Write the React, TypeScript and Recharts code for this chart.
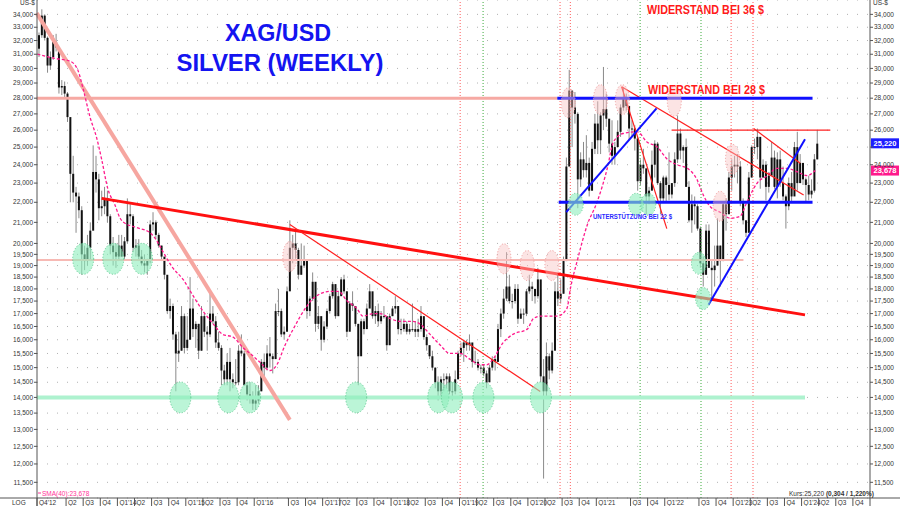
import React from "react";
import {
  ComposedChart,
  Bar,
  Line,
  XAxis,
  YAxis,
  CartesianGrid,
  ReferenceLine,
  ReferenceDot,
} from "recharts";

// half-month bars: [high, low, close]
const y2012 = [[32.6, 30.8, 32.4], [34.4, 32.2, 33.9], [34.0, 32.0, 32.2], [32.3, 29.7, 30.2]];
const y2013 = [
  [31.2, 29.9, 30.8], [32.4, 30.6, 31.9], [32.5, 31.2, 31.5], [31.5, 28.3, 28.7], [29.2, 28.2, 28.8], [29.1, 28.0, 28.3],
  [28.4, 26.5, 26.8], [26.5, 22.0, 23.5], [24.5, 22.0, 22.5], [22.8, 20.5, 22.3], [22.5, 21.2, 21.6], [21.8, 18.6, 19.5],
  [19.9, 18.8, 19.2], [20.4, 19.0, 19.8], [21.0, 19.2, 20.6], [25.1, 20.9, 23.6], [24.5, 22.5, 23.2], [23.5, 21.1, 21.7],
  [22.6, 21.3, 21.8], [22.8, 21.4, 22.2], [22.6, 21.0, 21.3], [21.4, 19.5, 19.9], [20.3, 19.0, 19.6], [20.0, 18.9, 19.4],
];
const y2014 = [
  [20.4, 19.2, 19.9], [20.4, 19.4, 19.4], [20.3, 19.3, 20.1], [22.2, 20.0, 21.4], [21.9, 20.9, 21.3], [21.4, 19.6, 19.8],
  [20.2, 19.4, 19.9], [20.2, 19.2, 19.4], [19.7, 19.0, 19.1], [19.5, 18.7, 19.0], [19.3, 18.6, 19.2], [21.1, 19.1, 20.9],
  [21.5, 20.6, 21.0], [21.1, 20.2, 20.4], [20.5, 19.8, 19.9], [19.9, 19.2, 19.4], [19.3, 18.4, 18.6], [18.5, 17.0, 17.1],
  [17.6, 16.8, 17.3], [17.4, 16.0, 16.2], [16.3, 14.2, 15.5], [16.3, 15.2, 15.6], [17.3, 15.6, 16.9], [17.0, 15.5, 15.7],
];
const y2015 = [
  [16.9, 15.6, 16.0], [18.5, 16.6, 17.2], [17.6, 16.1, 16.4], [16.7, 15.7, 16.6], [16.6, 15.3, 15.6], [17.3, 15.6, 16.9],
  [17.0, 16.1, 16.3], [16.5, 15.6, 16.2], [17.8, 16.1, 17.0], [17.3, 16.6, 16.7], [16.9, 15.7, 15.9], [16.3, 15.6, 15.7],
  [15.8, 14.4, 14.9], [15.1, 14.4, 14.6], [15.5, 14.4, 15.2], [15.7, 14.2, 14.6], [14.8, 14.3, 14.5], [15.3, 14.4, 14.5],
  [15.8, 14.4, 15.6], [16.2, 15.4, 15.5], [15.6, 14.4, 14.4], [14.5, 13.9, 14.1], [14.5, 13.8, 14.0], [14.2, 13.6, 13.8],
];
const y2016 = [
  [14.4, 13.6, 13.9], [14.4, 13.8, 14.2], [15.3, 14.2, 15.2], [15.5, 14.6, 15.0], [15.8, 14.9, 15.5], [16.1, 15.0, 15.4],
  [15.5, 14.8, 15.3], [17.4, 15.3, 17.1], [18.0, 16.9, 17.1], [17.2, 16.1, 16.2], [16.5, 16.0, 16.3], [18.1, 16.6, 17.9],
  [21.1, 18.4, 19.8], [20.4, 19.1, 20.0], [20.6, 19.3, 19.7], [19.8, 18.4, 18.6], [20.0, 18.6, 19.0], [19.9, 18.9, 19.2],
  [19.2, 16.8, 17.1], [17.7, 16.9, 17.6], [18.7, 17.5, 18.3], [18.2, 16.3, 16.6], [17.3, 16.4, 16.9], [16.7, 15.6, 16.0],
];
const y2017 = [
  [16.7, 15.9, 16.5], [17.2, 16.4, 17.1], [17.8, 17.0, 17.7], [18.3, 17.6, 18.2], [18.2, 16.8, 16.9], [17.9, 16.9, 17.7],
  [18.5, 17.9, 18.4], [18.6, 17.8, 17.9], [17.9, 16.1, 16.3], [17.5, 16.4, 17.4], [17.9, 17.1, 17.3], [17.0, 16.5, 16.6],
  [16.6, 14.4, 15.4], [16.8, 15.5, 16.7], [16.8, 16.2, 16.4], [17.4, 16.7, 17.2], [18.2, 17.4, 17.9], [17.8, 16.8, 16.9],
  [17.3, 16.6, 17.1], [17.4, 16.5, 16.7], [17.1, 16.6, 16.9], [17.3, 16.8, 16.9], [16.9, 15.6, 15.8], [17.0, 15.8, 16.9],
];
const y2018 = [
  [17.3, 16.9, 17.2], [17.7, 17.0, 17.3], [17.3, 16.2, 16.4], [16.8, 16.2, 16.4], [16.8, 16.3, 16.6], [16.7, 16.2, 16.3],
  [16.6, 16.2, 16.4], [17.4, 16.3, 16.4], [16.7, 16.1, 16.3], [16.8, 16.1, 16.4], [17.3, 16.3, 16.9], [16.8, 16.0, 16.1],
  [16.2, 15.6, 15.8], [15.8, 15.3, 15.4], [15.6, 14.9, 15.0], [15.0, 14.3, 14.5], [14.7, 13.9, 14.2], [14.7, 14.0, 14.6],
  [14.8, 14.2, 14.6], [14.8, 14.3, 14.7], [14.8, 14.1, 14.2], [14.5, 13.9, 14.2], [14.9, 14.1, 14.6], [15.6, 14.6, 15.5],
];
const y2019 = [
  [15.9, 15.4, 15.7], [16.0, 15.2, 15.9], [16.0, 15.6, 15.8], [16.2, 15.6, 15.9], [15.6, 15.0, 15.2], [15.6, 15.1, 15.2],
  [15.3, 14.9, 15.0], [15.1, 14.8, 15.0], [15.1, 14.7, 14.8], [14.9, 14.3, 14.5], [15.1, 14.5, 15.0], [15.4, 14.9, 15.3],
  [15.4, 14.9, 15.2], [16.6, 15.3, 16.4], [17.2, 16.1, 17.0], [18.0, 16.8, 17.6], [19.6, 17.5, 18.1], [18.6, 17.4, 17.5],
  [17.8, 17.2, 17.5], [18.2, 17.4, 18.0], [18.2, 16.6, 16.8], [17.2, 16.8, 17.0], [17.2, 16.6, 17.0], [18.0, 16.9, 17.9],
];
const y2020 = [
  [18.6, 17.8, 18.1], [18.3, 17.5, 18.0], [18.0, 17.4, 17.7], [18.9, 17.6, 18.4], [18.0, 14.5, 14.7], [15.3, 11.6, 14.2],
  [15.9, 14.0, 15.4], [15.5, 14.6, 14.9], [15.9, 14.8, 15.6], [18.3, 15.9, 17.9], [18.6, 17.3, 17.6], [18.4, 17.4, 17.8],
  [19.4, 17.8, 19.2], [24.4, 19.2, 23.9], [29.9, 24.0, 28.5], [28.0, 25.0, 27.4], [28.4, 26.4, 27.0], [27.1, 21.7, 23.2],
  [24.7, 22.8, 24.3], [25.3, 23.3, 23.7], [25.7, 23.3, 24.1], [24.4, 22.3, 22.6], [25.3, 22.6, 24.9], [27.0, 24.6, 26.4],
];
const y2021 = [
  [27.8, 24.6, 25.4], [27.1, 24.6, 26.9], [30.1, 26.0, 27.3], [28.3, 26.2, 26.7], [26.5, 24.7, 25.2], [26.6, 24.0, 24.5],
  [25.3, 24.0, 25.0], [26.6, 25.0, 25.9], [27.6, 25.6, 27.4], [28.7, 27.2, 28.0], [28.3, 27.2, 27.5], [27.5, 25.4, 26.1],
  [26.6, 25.6, 26.1], [26.3, 24.8, 25.5], [25.6, 22.6, 23.1], [24.3, 22.9, 24.0], [24.9, 23.5, 23.8], [23.4, 21.4, 22.3],
  [22.8, 21.9, 22.6], [24.8, 22.8, 24.0], [25.4, 23.3, 25.2], [25.3, 22.9, 23.0], [23.1, 21.4, 22.2], [23.4, 22.0, 23.3],
];
const y2022 = [
  [23.4, 22.0, 22.9], [24.7, 22.1, 22.4], [23.0, 22.2, 23.0], [24.7, 22.8, 24.3], [26.9, 24.1, 25.8], [26.1, 24.3, 24.8],
  [25.1, 24.1, 25.0], [25.5, 22.8, 22.8], [23.1, 21.0, 21.1], [22.4, 20.5, 21.9], [22.3, 20.9, 21.8], [21.9, 20.6, 20.7],
  [20.8, 18.9, 19.1], [19.4, 18.1, 18.6], [20.9, 18.6, 20.6], [20.9, 18.9, 18.9], [19.2, 17.6, 18.8], [19.9, 18.1, 19.0],
  [21.2, 19.0, 19.9], [19.9, 18.1, 19.2], [22.0, 19.2, 21.9], [22.2, 20.6, 21.4], [23.6, 21.4, 23.3], [24.3, 22.6, 23.9],
];
const y2023 = [
  [24.5, 23.3, 24.0], [24.6, 23.0, 23.9], [24.2, 21.8, 22.0], [22.2, 20.9, 21.1], [21.1, 20.3, 20.5], [23.6, 20.5, 23.3],
  [25.1, 23.3, 25.0], [25.5, 24.6, 25.0], [26.1, 24.3, 25.6], [24.6, 22.7, 23.3], [24.3, 23.3, 24.0], [24.2, 22.1, 22.8],
  [23.6, 22.5, 23.4], [25.3, 23.8, 24.4], [24.8, 22.7, 22.8], [24.7, 22.2, 24.3], [24.8, 22.8, 23.0], [23.9, 22.1, 22.3],
  [22.4, 20.7, 21.8], [23.3, 21.6, 23.0], [23.6, 22.0, 22.3], [25.3, 22.8, 25.0], [25.9, 22.6, 23.0], [24.6, 23.0, 24.1],
];
const y2024 = [[24.1, 22.9, 23.2], [23.3, 22.0, 22.9], [23.4, 22.1, 22.4], [23.2, 22.2, 22.6], [24.6, 22.5, 24.3], [26.0, 24.3, 25.2]];

const firstOpen = 31.4;
// year, first half-month slot, rows
const candleYears: [number, number, number[][]][] = [
  [2012, 20, y2012], [2013, 0, y2013], [2014, 0, y2014], [2015, 0, y2015], [2016, 0, y2016], [2017, 0, y2017],
  [2018, 0, y2018], [2019, 0, y2019], [2020, 0, y2020], [2021, 0, y2021], [2022, 0, y2022], [2023, 0, y2023], [2024, 0, y2024],
];

// SMA(40): [date, value]
const smaPoints = [
  [2012.83, 31.0], [2013.09, 30.7], [2013.31, 30.5], [2013.42, 29.9], [2013.5, 28.6], [2013.6, 26.8], [2013.7, 25.5],
  [2013.77, 24.3], [2013.86, 22.7], [2013.96, 21.9], [2014.04, 21.2], [2014.14, 20.9], [2014.23, 20.8], [2014.33, 20.7],
  [2014.48, 20.5], [2014.58, 20.1], [2014.67, 19.6], [2014.81, 18.9], [2014.96, 18.4], [2015.11, 17.7], [2015.25, 17.1],
  [2015.4, 16.6], [2015.54, 16.2], [2015.69, 16.1], [2015.84, 15.7], [2015.94, 15.5], [2016.08, 15.2], [2016.23, 14.9],
  [2016.33, 15.1], [2016.45, 15.8], [2016.57, 16.4], [2016.77, 17.3], [2016.86, 17.6], [2017.11, 17.9], [2017.23, 17.9],
  [2017.36, 17.5], [2017.5, 17.2], [2017.59, 16.9], [2017.74, 17.0], [2017.84, 17.0], [2017.99, 16.8], [2018.13, 16.7],
  [2018.32, 16.7], [2018.42, 16.6], [2018.57, 16.2], [2018.72, 15.8], [2018.86, 15.5], [2019.01, 15.5], [2019.15, 15.3],
  [2019.3, 15.1], [2019.4, 15.1], [2019.49, 15.3], [2019.64, 15.9], [2019.78, 16.2], [2019.99, 16.4], [2020.08, 16.8],
  [2020.18, 16.9], [2020.43, 16.9], [2020.57, 17.2], [2020.62, 18.0], [2020.72, 19.2], [2020.87, 20.9], [2021.01, 22.0],
  [2021.16, 23.8], [2021.25, 25.3], [2021.39, 25.8], [2021.6, 25.9], [2021.74, 25.3], [2021.89, 25.0], [2022.04, 24.3],
  [2022.18, 24.0], [2022.33, 23.8], [2022.47, 23.2], [2022.56, 22.4], [2022.66, 21.8], [2022.81, 21.5], [2022.96, 21.2],
  [2023.1, 21.3], [2023.2, 22.0], [2023.35, 23.0], [2023.5, 23.4], [2023.64, 23.8], [2023.79, 23.8], [2023.94, 23.6],
  [2024.08, 23.4], [2024.2, 23.678],
];

const lastPrice = 25.22;
const lastSma = 23.678;

const yTicks = [
  11.5, 12, 12.5, 13, 13.5, 14, 14.5, 15, 15.5, 16, 16.5, 17, 17.5, 18, 18.5, 19, 19.5, 20,
  21, 22, 23, 24, 25, 26, 27, 28, 29, 30, 31, 32, 33, 34,
];
const qDates = [
  2012.825, 2013.25, 2013.5, 2013.75, 2014, 2014.25, 2014.5, 2014.75, 2015, 2015.25, 2015.5, 2015.75,
  2016, 2016.5, 2016.75, 2017, 2017.25, 2017.5, 2017.75, 2018, 2018.25, 2018.5, 2018.75,
  2019, 2019.25, 2019.5, 2019.75, 2020, 2020.25, 2020.5, 2020.75, 2021, 2021.5, 2021.75,
  2022, 2022.5, 2022.75, 2023, 2023.25, 2023.5, 2023.75, 2024, 2024.25, 2024.5, 2024.75,
];
const qLabels = [
  "Q4'12", "Q2", "Q3", "Q4", "Q1'14", "Q2", "Q3", "Q4", "Q1'15", "Q2", "Q3", "Q4",
  "Q1'16", "Q3", "Q4", "Q1'17", "Q2", "Q3", "Q4", "Q1'18", "Q2", "Q3", "Q4",
  "Q1'19", "Q2", "Q3", "Q4", "Q1'20", "Q2", "Q3", "Q4", "Q1'21", "Q3", "Q4",
  "Q1'22", "Q3", "Q4", "Q1'23", "Q2", "Q3", "Q4", "Q1'24", "Q2", "Q3", "Q4",
];

// drawn trend lines: [[date, price], [date, price]]
const thickRedLines = [[[2013.77, 22.2], [2024.05, 16.95]]];
const thinRedLines = [
  [[2016.52, 20.9], [2020.18, 14.19]],
  [[2021.37, 28.75], [2022.03, 20.7]],
  [[2021.37, 28.75], [2024.03, 22.37]],
  [[2023.3, 26.1], [2023.98, 24.08]],
  [[2022.1, 26.0], [2024.42, 26.0]],
];
const blueLines = [
  [[2020.56, 21.5], [2021.88, 27.35]],
  [[2022.64, 17.35], [2024.05, 25.46]],
];
const blueLevels = [
  [[2020.43, 28.0], [2024.16, 28.0]],
  [[2020.45, 22.0], [2024.16, 22.0]],
];
const pinkDiagonal = [[2012.82, 34.1], [2016.52, 13.29]];
const pinkLevel28 = [[2012.82, 28.0], [2020.43, 28.0]];
const pinkLevel19 = [[2012.82, 19.25], [2023.15, 19.25]];
const mintLevel14 = [[2012.82, 14.0], [2024.05, 14.0]];

const redMarkers = [2019.01, 2020.47, 2020.62, 2022.97, 2023.29];
const greenMarkers = [2019.345, 2021.64, 2022.53];

const greenBigOvals = [
  [2013.5, 19.3], [2013.94, 19.3], [2014.36, 19.3],
  [2014.92, 14.0], [2015.62, 14.0], [2015.94, 14.0], [2017.49, 14.0], [2018.69, 14.0], [2018.89, 14.0], [2019.35, 14.0], [2020.19, 14.0],
];
const greenSmallOvals = [[2020.7, 21.9], [2021.58, 21.9], [2021.76, 21.9], [2022.5, 19.1], [2022.56, 17.6]];
const pinkOvals = [
  [2016.52, 19.4], [2019.65, 19.3], [2019.99, 19.0], [2020.35, 19.0], [2020.59, 27.7], [2021.06, 27.9],
  [2021.38, 27.9], [2022.14, 27.8], [2022.99, 24.3], [2022.81, 21.8],
];

const candles: any[] = [];
let prevClose = firstOpen;
candleYears.forEach(([yr, start, rows]) =>
  rows.forEach(([high, low, close], i) => {
    candles.push({ t: yr + (start + i + 0.5) / 24, open: prevClose, high, low, close, range: [low, high] });
    prevClose = close;
  })
);
const smaData = smaPoints.map(([t, v]) => ({ t, sma: v }));

const fmt = (v: number) => v.toFixed(3).replace(".", ",");
const FONT = "'Liberation Sans', Arial, sans-serif";

const Candle = (p: any) => {
  const { x, y, width, height, payload } = p;
  if (!payload || !isFinite(y) || !isFinite(height)) return null;
  const top = Math.min(y, y + height);
  const bot = Math.max(y, y + height);
  const span = Math.log(payload.high / payload.low) || 1;
  const yOf = (v: number) => top + ((bot - top) * Math.log(payload.high / v)) / span;
  const cx = x + width / 2;
  const yo = yOf(payload.open);
  const yc = yOf(payload.close);
  return (
    <g>
      <line x1={cx} x2={cx} y1={top} y2={bot} stroke="#8a8a8a" strokeWidth={1} />
      <rect x={cx - 1} y={Math.min(yo, yc)} width={2} height={Math.max(1, Math.abs(yc - yo))} fill="#111" />
    </g>
  );
};

const LeftTick = ({ y, payload }: any) => (
  <g>
    <line x1={34} x2={37} y1={y} y2={y} stroke="#555" />
    <text x={33} y={y + 2.2} textAnchor="end" fontSize={6.5} fill="#333">{fmt(payload.value)}</text>
  </g>
);
// the last-price box sits on top of the nearest right-hand label, as in the original
const RightTick = ({ y, payload }: any) => (
  <g>
    <line x1={870} x2={873} y1={y} y2={y} stroke="#555" />
    {Math.abs(payload.value - lastPrice) < 0.5 ? null : (
      <text x={874} y={y + 2.2} textAnchor="start" fontSize={6.5} fill="#333">{fmt(payload.value)}</text>
    )}
  </g>
);
const QuarterTick = ({ x, payload }: any) => {
  const i = qDates.indexOf(payload.value);
  return (
    <g>
      <line x1={x} x2={x} y1={498} y2={506} stroke="#555" />
      <text x={x + 2} y={504.5} fontSize={6.5} fill="#333">{i >= 0 ? qLabels[i] : ""}</text>
    </g>
  );
};

const oval = (rx: number, ry: number, fill: string, stroke: string, op: number) => (p: any) =>
  <ellipse cx={p.cx} cy={p.cy} rx={rx} ry={ry} fill={fill} fillOpacity={op} stroke={stroke} strokeDasharray="1 2" />;

const priceBox = (text: string, fill: string) => (p: any) => (
  <g>
    <rect x={p.cx + 1} y={p.cy - 5} width={28} height={10} fill={fill} />
    <text x={p.cx + 15} y={p.cy + 2.8} textAnchor="middle" fontSize={7.5} fontWeight="bold" fill="#fff">{text}</text>
  </g>
);

const seg = (s: number[][]) => [{ x: s[0][0], y: s[0][1] }, { x: s[1][0], y: s[1][1] }];

const App: React.FC = () => {
  return (
    <div style={{ position: "absolute", left: 0, top: 0, width: 900, height: 506, background: "#fff", fontFamily: FONT }}>
      <ComposedChart width={900} height={506} data={candles} margin={{ top: 0, right: 0, bottom: 0, left: 0 }}>
        <CartesianGrid vertical={false} stroke="#b0b0b0" strokeDasharray="1 9" />
        <XAxis
          dataKey="t"
          type="number"
          domain={[2012.825, 2025.0]}
          allowDataOverflow
          ticks={qDates}
          interval={0}
          height={8}
          axisLine={false}
          tickLine={false}
          tick={<QuarterTick />}
        />
        <YAxis
          yAxisId="L"
          orientation="left"
          scale="log"
          type="number"
          domain={[11.09, 35.15]}
          allowDataOverflow
          ticks={yTicks}
          interval={0}
          width={37}
          axisLine={false}
          tickLine={false}
          tick={<LeftTick />}
        />
        <YAxis
          orientation="right"
          scale="log"
          type="number"
          domain={[11.09, 35.15]}
          allowDataOverflow
          ticks={yTicks}
          interval={0}
          width={30}
          axisLine={false}
          tickLine={false}
          tick={<RightTick />}
        />

        {redMarkers.map((t) => (
          <ReferenceLine key={"rm" + t} x={t} stroke="#ff5a5a" strokeDasharray="1 2" />
        ))}
        {greenMarkers.map((t) => (
          <ReferenceLine key={"gm" + t} x={t} stroke="#3caa3c" strokeDasharray="1 2" />
        ))}

        <ReferenceLine segment={seg(mintLevel14)} stroke="#aef2cf" strokeWidth={4} ifOverflow="visible" />
        <ReferenceLine segment={seg(pinkLevel19)} stroke="#f7b9b4" strokeWidth={2} ifOverflow="visible" />
        <ReferenceLine segment={seg(pinkLevel28)} stroke="#f6a9a3" strokeWidth={3} ifOverflow="visible" />
        <ReferenceLine segment={seg(pinkDiagonal)} stroke="#f6a6a0" strokeWidth={4} ifOverflow="visible" />

        {greenBigOvals.map(([t, v], i) => (
          <ReferenceDot key={"gb" + i} x={t} y={v} r={10} ifOverflow="visible" shape={oval(10.5, 15.5, "#8eeebc", "#5cc88e", 0.6)} />
        ))}
        {greenSmallOvals.map(([t, v], i) => (
          <ReferenceDot key={"gs" + i} x={t} y={v} r={8} ifOverflow="visible" shape={oval(7.5, 11, "#8eeebc", "#5cc88e", 0.6)} />
        ))}
        {pinkOvals.map(([t, v], i) => (
          <ReferenceDot key={"po" + i} x={t} y={v} r={7} ifOverflow="visible" shape={oval(7, 15, "#f8c4c4", "#ef9a9a", 0.45)} />
        ))}

        <Bar dataKey="range" barSize={2} shape={<Candle />} isAnimationActive={false} />
        <Line
          data={smaData}
          dataKey="sma"
          type="monotone"
          stroke="#ff1a8c"
          strokeWidth={1.3}
          strokeDasharray="3 2"
          dot={false}
          isAnimationActive={false}
        />

        {thickRedLines.map((s, i) => (
          <ReferenceLine key={"tr" + i} segment={seg(s)} stroke="#ff1010" strokeWidth={3} ifOverflow="visible" />
        ))}
        {thinRedLines.map((s, i) => (
          <ReferenceLine key={"nr" + i} segment={seg(s)} stroke="#ff2020" strokeWidth={1.2} ifOverflow="visible" />
        ))}
        {blueLevels.map((s, i) => (
          <ReferenceLine key={"bl" + i} segment={seg(s)} stroke="#1010ff" strokeWidth={3} ifOverflow="visible" />
        ))}
        {blueLines.map((s, i) => (
          <ReferenceLine key={"bd" + i} segment={seg(s)} stroke="#1010ff" strokeWidth={2} ifOverflow="visible" />
        ))}

        <ReferenceDot x={2025.0} y={lastPrice} r={1} ifOverflow="visible" shape={priceBox(fmt(lastPrice), "#1e1eff")} />
        <ReferenceDot x={2025.0} y={lastSma} r={1} ifOverflow="visible" shape={priceBox(fmt(lastSma), "#ff1a8c")} />
      </ComposedChart>

      <svg width={900} height={506} style={{ position: "absolute", left: 0, top: 0, pointerEvents: "none" }}>
        <line x1={0} x2={900} y1={498} y2={498} stroke="#555" />
        <line x1={37} x2={37} y1={0} y2={506} stroke="#555" />
        <line x1={870} x2={870} y1={0} y2={506} stroke="#555" />
        <text x={20} y={5} fontSize={6.5} fill="#333">US-$</text>
        <text x={873} y={5} fontSize={6.5} fill="#333">US-$</text>
        <text x={12} y={505} fontSize={6.5} fill="#333">LOG</text>

        <text x={278} y={41} textAnchor="middle" fontSize={24} fontWeight="bold" fill="#1414f0" textLength={106} lengthAdjust="spacingAndGlyphs">XAG/USD</text>
        <text x={280} y={71} textAnchor="middle" fontSize={24} fontWeight="bold" fill="#1414f0" textLength={207} lengthAdjust="spacingAndGlyphs">SILVER (WEEKLY)</text>

        <text x={647} y={14} fontSize={12} fontWeight="bold" fill="#ff1a1a" textLength={117} lengthAdjust="spacingAndGlyphs">WIDERSTAND BEI 36 $</text>
        <text x={648} y={94} fontSize={12} fontWeight="bold" fill="#ff1a1a" textLength={117} lengthAdjust="spacingAndGlyphs">WIDERSTAND BEI 28 $</text>
        <text x={593} y={218.5} fontSize={7.5} fontWeight="bold" fill="#2a2aff" textLength={79} lengthAdjust="spacingAndGlyphs">UNTERSTÜTZUNG BEI 22 $</text>

        <line x1={38} x2={41} y1={493} y2={493} stroke="#ff3399" />
        <text x={42} y={495.5} fontSize={6.5} fill="#ff3399">SMA(40):{fmt(lastSma)}</text>
        <text x={789} y={495.5} fontSize={6.5} fill="#333">
          Kurs:{fmt(lastPrice)} <tspan fontWeight="bold">(0,304 / 1,220%)</tspan>
        </text>
      </svg>
    </div>
  );
};

export default App;
